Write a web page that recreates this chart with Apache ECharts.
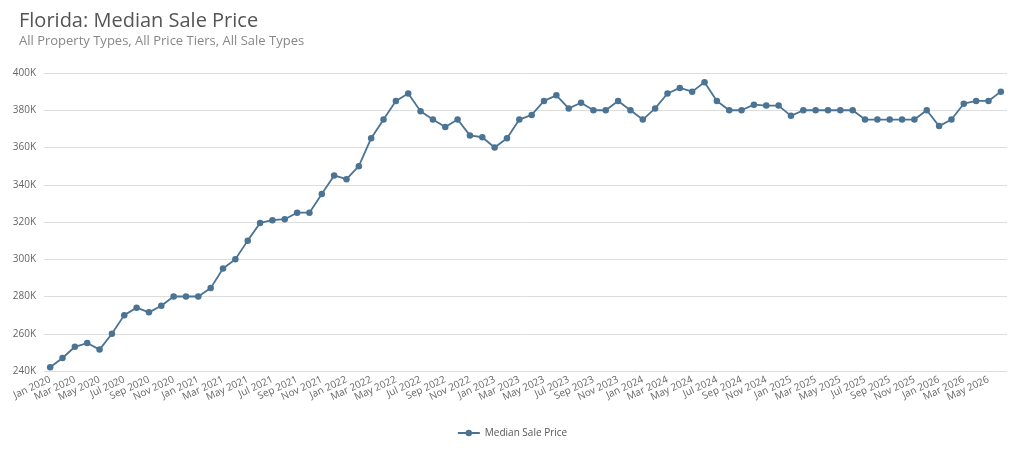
<!DOCTYPE html>
<html>
<head>
<meta charset="utf-8">
<script src="https://cdn.jsdelivr.net/npm/echarts@6/dist/echarts.min.js"></script>
<style>
  html, body { margin: 0; padding: 0; background: #fff; }
  #main { width: 1024px; height: 469px; }
</style>
</head>
<body>
<div id="main"></div>
<script>
var monthNames = ['Jan', 'Feb', 'Mar', 'Apr', 'May', 'Jun', 'Jul', 'Aug', 'Sep', 'Oct', 'Nov', 'Dec'];
var years = [2020, 2021, 2022, 2023, 2024, 2025, 2026];

var prices = [
    242, 247, 253, 255, 251.5, 260, 270, 274, 271.5, 275, 280, 280,
    280, 284.5, 295, 300, 310, 319.5, 321, 321.5, 325, 325, 335, 345,
    343, 350, 365, 375, 385, 389, 379.5, 375, 371, 375, 366.5, 365.5,
    360, 365, 375, 377.5, 385, 388, 381, 384, 380, 380, 385, 380,
    375, 381, 389, 392, 390, 395, 385, 380, 380, 383, 382.5, 382.5,
    377, 380, 380, 380, 380, 380, 375, 375, 375, 375, 375, 380,
    371.5, 375, 383.5, 385, 385, 390
];

var months = [];
for (var i = 0; i < prices.length; i++) {
    months.push(monthNames[i % 12] + ' ' + years[Math.floor(i / 12)]);
}

var chart = echarts.init(document.getElementById('main'));
chart.setOption({
    textStyle: { fontFamily: 'Open Sans' },
    title: {
        text: 'Florida: Median Sale Price',
        subtext: 'All Property Types, All Price Tiers, All Sale Types',
        left: 14,
        top: 6,
        itemGap: 4,
        textStyle: { fontSize: 20, fontWeight: 'normal', color: '#555' },
        subtextStyle: { fontSize: 13, color: '#888' }
    },
    legend: {
        bottom: 26,
        left: 'center',
        itemWidth: 22,
        itemHeight: 8,
        textStyle: { fontSize: 10, color: '#555' },
        data: ['Median Sale Price']
    },
    grid: { left: 44, right: 17, top: 73, bottom: 98 },
    xAxis: {
        type: 'category',
        data: months,
        boundaryGap: ['1.7%', '0.6%'],
        axisLine: { show: false },
        axisTick: { show: false },
        axisLabel: { interval: 1, rotate: 25, fontSize: 10, color: '#666', margin: 8 }
    },
    yAxis: {
        type: 'value',
        min: 240,
        max: 400,
        interval: 20,
        axisLabel: { fontSize: 10, color: '#666', formatter: '{value}K' },
        splitLine: { lineStyle: { color: '#ddd' } }
    },
    series: [{
        name: 'Median Sale Price',
        type: 'line',
        data: prices,
        symbol: 'circle',
        symbolSize: 6.5,
        lineStyle: { width: 1.8, color: '#4a7394' },
        itemStyle: { color: '#4a7394' }
    }]
});
</script>
</body>
</html>
